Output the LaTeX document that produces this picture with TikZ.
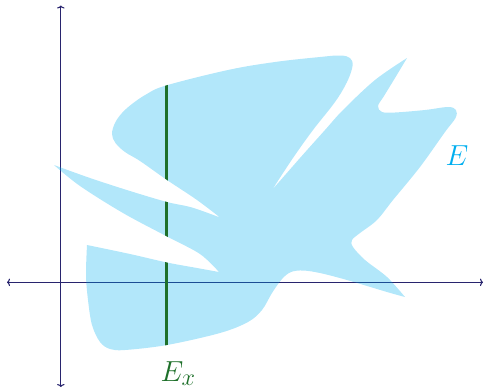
\documentclass[tikz,border=0pt]{standalone}
\usetikzlibrary{arrows.meta}
\definecolor{axiscol}{RGB}{40,36,110}
\definecolor{ecyan}{RGB}{0,174,239}
\definecolor{exgreen}{RGB}{30,112,42}
\tikzset{
  axis/.style={draw=axiscol, line width=1.1pt, {To[length=3pt,width=7.5pt]}-{To[length=3pt,width=7.5pt]}},
  region/.style={fill=ecyan, fill opacity=0.3},
  slice/.style={draw=exgreen, line width=2.2pt},
  shapepath/.style={insert path={
    plot[smooth,tension=0.55] coordinates {(87,245) (130,254) (167,262.5) (197,268) (219,272)}
    -- plot[smooth,tension=0.55] coordinates {(219,272) (200,254) (167,236.5) (123,213) (80,186) (54,165)}
    -- plot[smooth,tension=0.55] coordinates {(54,165) (90,178) (130,191) (167,202) (192,207.5) (220,217.5)}
    -- plot[smooth,tension=0.6] coordinates {(220,217.5) (197,200) (167,180) (140,161) (125,152) (115.5,143) (112,134) (115,123) (122,113) (132,104) (146,94.5) (166,85.5) (228,70) (275,62) (320,57) (340,55.5) (350,58) (352.5,66) (347,82) (335,102) (313,130) (293,158) (272,190)}
    -- plot[smooth,tension=0.55] coordinates {(272,190) (300,158) (325,130) (343,110) (375,80) (407,58)}
    -- plot[smooth,tension=0.55] coordinates {(407,58) (395,78) (384,96) (378,106) (382,112) (395,112.5) (425,110) (448,107) (456,110) (455.5,118) (445,132) (420,167) (393,200) (377,220) (360,233) (352,240) (353,247) (365,260) (387,277) (405,297)}
    -- plot[smooth,tension=0.55] coordinates {(405,297) (387,292) (347,280) (320,273) (303,270.5) (291,272) (282,279) (272,293) (262,310) (248,322) (220,333) (167,345) (125,350) (110,349) (100,342) (92,325) (88,300) (86,275) (87,245)}
    -- cycle}}
}
\begin{document}
\begin{tikzpicture}[x=1pt,y=-1pt]
\useasboundingbox (0,0) rectangle (484,389);
\coordinate (xl) at (7,282.3);
\coordinate (xr) at (483,282.3);
\coordinate (yt) at (60.8,5.5);
\coordinate (yb) at (60.8,387);
\draw[axis] (xl) -- (xr);
\draw[axis] (yt) -- (yb);
\fill[region, shapepath];
\begin{scope}
  \clip[shapepath];
  \coordinate (st) at (166.5,60);
  \coordinate (sb) at (166.5,370);
  \draw[slice] (st) -- (sb);
\end{scope}
\node[text=ecyan, anchor=base west, inner sep=0pt] (Elabel) at (445.5,165) {\scalebox{1.165}{\Huge$E$}};
\node[text=exgreen, anchor=base west, inner sep=0pt] (Exlabel) at (160.5,381.5) {\scalebox{1.165}{\Huge$E_x$}};
\end{tikzpicture}
\end{document}
